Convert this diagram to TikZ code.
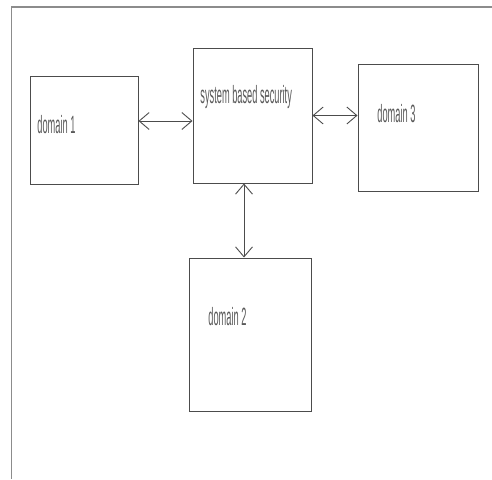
\documentclass[tikz,border=0pt]{standalone}
\usepackage{fontspec}
\usepackage{tikz}
\usetikzlibrary{positioning, arrows.meta, calc}
\newfontfamily\narrowfont[FakeStretch=0.37]{Liberation Sans}
\definecolor{framegray}{rgb}{0.55,0.55,0.55}
\definecolor{linegray}{rgb}{0.3,0.3,0.3}
\definecolor{textgray}{rgb}{0.35,0.35,0.35}
\tikzstyle{box}=[%
      rectangle, draw=linegray, line width=1pt, fill=none,
      inner sep=0pt
]
\tikzstyle{lbl}=[%
      anchor=base west, inner sep=0pt, text=textgray,
      font=\narrowfont\fontsize{25}{25}\selectfont
]

\begin{document}
\begin{tikzpicture}[x=1pt, y=-1pt,
    <->,
    {Straight Barb[length=10pt,width=17pt]}-{Straight Barb[length=10pt,width=17pt]},
    line width=0.9pt, draw=linegray
  ]
    \useasboundingbox (0,0) rectangle (492,479);
    % outer frame
    \draw[-, framegray, line width=1.4pt] (492,7) -- (11.5,7) -- (11.5,479);

    \node[box, minimum width=108pt, minimum height=108pt] (dom1) at (84,130)    {};
    \node[box, minimum width=119pt, minimum height=135pt] (sys)  at (252.5,115.5) {};
    \node[box, minimum width=120pt, minimum height=127pt] (dom3) at (418,127.5) {};
    \node[box, minimum width=122pt, minimum height=153pt] (dom2) at (250,334.5) {};

    \node[lbl] (t1) at (37,133)  {domain 1};
    \node[lbl] (ts) at (200,103) {system based security};
    \node[lbl] (t3) at (377,122) {domain 3};
    \node[lbl] (t2) at (208,325) {domain 2};

    \draw ($(dom1.east)+(0,-9)$) -- ($(sys.west)+(0,5.5)$);
    \draw (sys.east) -- (dom3.west |- sys.east);
    \draw ($(sys.south)+(-8.5,0)$) -- ($(dom2.north)+(-6,0)$);
\end{tikzpicture}
\end{document}
